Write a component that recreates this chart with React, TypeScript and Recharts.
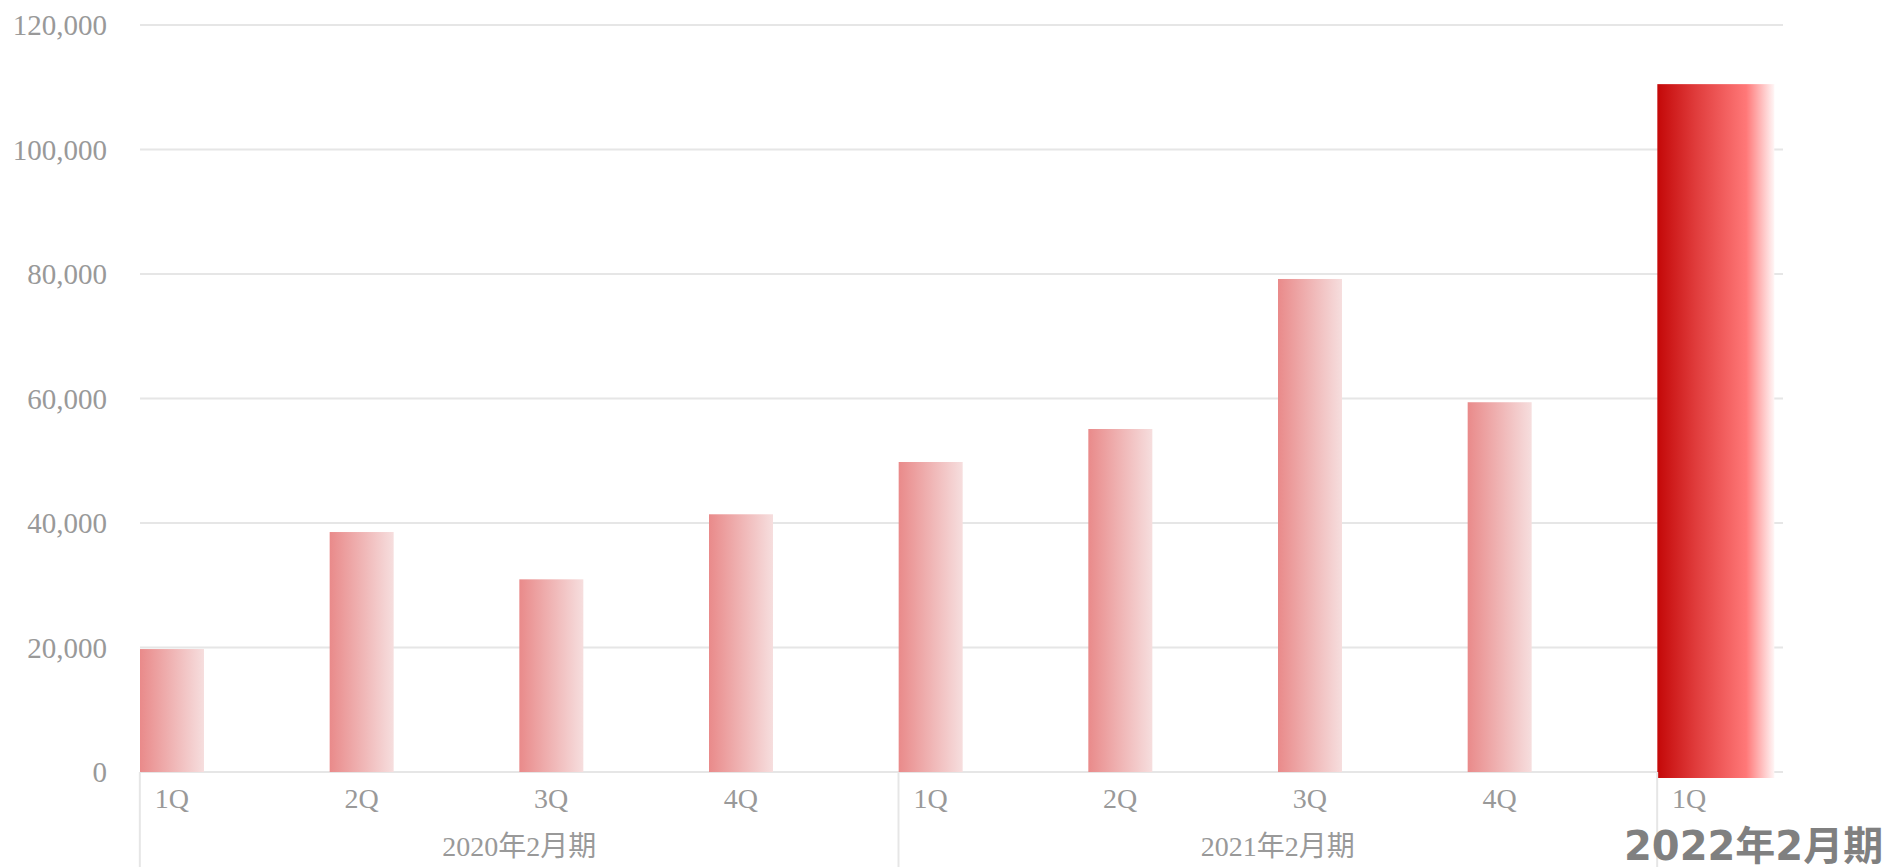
import { Bar, BarChart, CartesianGrid, XAxis, YAxis } from "recharts"

const quarters = ["1Q", "2Q", "3Q", "4Q", "1Q", "2Q", "3Q", "4Q", "1Q"]
const sales = [19750, 38550, 30950, 41400, 49800, 55100, 79200, 59400, 110500]
const yTicks = [0, 20000, 40000, 60000, 80000, 100000, 120000]
const fiscalYears = ["2020年2月期", "2021年2月期", "2022年2月期"]
const groupStarts = [0, 4, 8]

const W = 1892
const H = 867
const margin = { top: 25, right: 108, bottom: 0, left: 0 }
const yAxisW = 77
const xAxisH = 95
const step = (W - margin.left - margin.right - yAxisW) / quarters.length
const barW = 64
const highlightW = 117
const gridInset = 63

const serif = "'Liberation Serif', 'Noto Sans CJK JP', serif"
const textGray = "#999999"
const lineGray = "#e6e6e6"

const chartData = quarters.map((q, i) => ({ key: i, quarter: q, value: sales[i] }))

const QuarterTick = (props: any) => {
  const { x, y, payload } = props
  const i = Number(payload.value)
  const g = groupStarts.indexOf(i)
  return (
    <g>
      <text x={x} y={y + 36} textAnchor="middle" fontSize={28} fill={textGray} fontFamily={serif}>
        {quarters[i]}
      </text>
      {g >= 0 && (
        <line x1={x - barW / 2} x2={x - barW / 2} y1={y} y2={H} stroke={lineGray} strokeWidth={2} />
      )}
      {g >= 0 && g < 2 && (
        <text x={x - barW / 2 + 2 * step} y={y + 84} textAnchor="middle" fontSize={28} fill={textGray} fontFamily={serif}>
          {fiscalYears[g]}
        </text>
      )}
      {g === 2 && (
        <text x={x + 194} y={y + 88} textAnchor="end" fontSize={40} fontWeight="bold" fill="#808080"
          fontFamily="'DejaVu Sans', 'Noto Sans CJK JP', sans-serif">
          {fiscalYears[g]}
        </text>
      )}
    </g>
  )
}

const ValueTick = (props: any) => {
  const { x, y, payload } = props
  return (
    <text x={x + 30} y={y} dy="0.355em" textAnchor="end" fontSize={29} fill={textGray} fontFamily={serif}>
      {Number(payload.value).toLocaleString("en-US")}
    </text>
  )
}

const GridLine = (props: any) => {
  const { x1, x2, y1, y2, index } = props
  return <line key={`h-${index}-${y1}`} x1={x1 + gridInset} x2={x2 - 1} y1={y1} y2={y2} stroke={lineGray} strokeWidth={2} />
}

const SalesBar = (props: any) => {
  const { x, y, width, height, index } = props
  if (index === quarters.length - 1) {
    return <rect x={x} y={y} width={highlightW} height={height + 6} fill="url(#gradRed)" />
  }
  return <rect x={x} y={y} width={width} height={height} fill="url(#gradPale)" />
}

export default function App() {
  return (
    <div style={{ position: "absolute", left: 0, top: 0, background: "#fff" }}>
      <BarChart width={W} height={H} data={chartData} margin={margin}>
        <defs>
          <linearGradient id="gradPale" x1="0" y1="0" x2="1" y2="0">
            <stop offset="0%" stopColor="#e98a8a" />
            <stop offset="100%" stopColor="#f6dede" />
          </linearGradient>
          <linearGradient id="gradRed" x1="0" y1="0" x2="1" y2="0">
            <stop offset="0%" stopColor="#c40808" />
            <stop offset="33%" stopColor="#e03c3c" />
            <stop offset="76%" stopColor="#ff7878" />
            <stop offset="100%" stopColor="#fff6f6" />
          </linearGradient>
        </defs>
        <CartesianGrid vertical={false} horizontal={GridLine} />
        <XAxis
          dataKey="key"
          height={xAxisH}
          axisLine={false}
          tickLine={false}
          tickSize={0}
          tickMargin={0}
          interval={0}
          tick={QuarterTick}
        />
        <YAxis
          width={yAxisW}
          domain={[0, 120000]}
          ticks={yTicks}
          axisLine={false}
          tickLine={false}
          tickSize={0}
          tickMargin={0}
          tick={ValueTick}
        />
        <Bar dataKey="value" barSize={barW} shape={SalesBar} isAnimationActive={false} />
      </BarChart>
    </div>
  )
}
